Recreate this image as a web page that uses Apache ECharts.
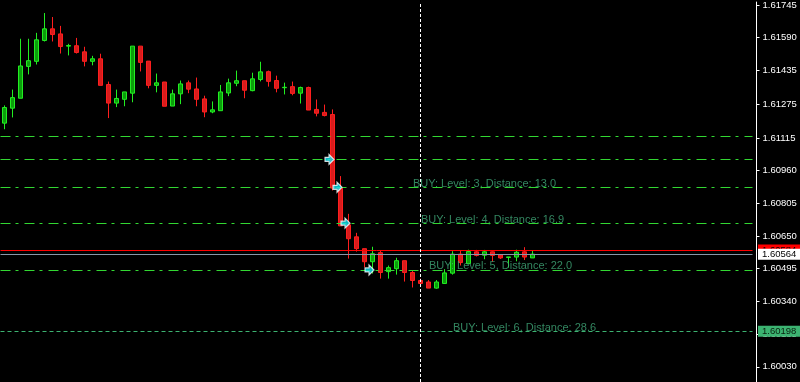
<!DOCTYPE html>
<html><head><meta charset="utf-8">
<script src="https://cdn.jsdelivr.net/npm/echarts@6/dist/echarts.min.js"></script>
<style>html,body{margin:0;padding:0;background:#000}#c{width:800px;height:382px}</style>
</head><body><div id="c"></div>
<script>
const opens = [1.61185,1.61256,1.61303,1.61454,1.61478,1.61577,1.61632,1.61608,1.61550,1.61552,
1.61523,1.61478,1.61490,1.61368,1.61280,1.61298,1.61327,1.61550,1.61479,1.61364,
1.61380,1.61266,1.61324,1.61376,1.61347,1.61300,1.61238,1.61244,1.61328,1.61374,
1.61386,1.61339,1.61392,1.61429,1.61387,1.61353,1.61358,1.61327,1.61354,1.61250,
1.61236,1.61226,1.60877,1.60703,1.60646,1.60590,1.60528,1.60571,1.60481,1.60495,
1.60533,1.60477,1.60439,1.60432,1.60403,1.60425,1.60474,1.60564,1.60519,1.60575,
1.60559,1.60575,1.60560,1.60548,1.60550,1.60575,1.60546];
const closes = [1.61259,1.61306,1.61456,1.61481,1.61580,1.61632,1.61605,1.61548,1.61553,1.61520,
1.61478,1.61490,1.61364,1.61280,1.61302,1.61333,1.61550,1.61473,1.61364,1.61376,
1.61265,1.61324,1.61371,1.61346,1.61298,1.61238,1.61248,1.61333,1.61376,1.61386,
1.61341,1.61395,1.61428,1.61383,1.61350,1.61355,1.61326,1.61354,1.61247,1.61232,
1.61221,1.60877,1.60698,1.60637,1.60590,1.60528,1.60566,1.60477,1.60500,1.60533,
1.60477,1.60439,1.60425,1.60403,1.60432,1.60475,1.60564,1.60524,1.60576,1.60558,
1.60575,1.60558,1.60546,1.60551,1.60573,1.60550,1.60564];
const lows = [1.61156,1.61212,1.61303,1.61416,1.61463,1.61572,1.61572,1.61515,1.61506,1.61515,
1.61454,1.61459,1.61364,1.61209,1.61261,1.61265,1.61284,1.61430,1.61350,1.61331,
1.61265,1.61266,1.61275,1.61327,1.61265,1.61213,1.61232,1.61244,1.61313,1.61360,
1.61303,1.61336,1.61383,1.61358,1.61331,1.61321,1.61317,1.61278,1.61247,1.61217,
1.61217,1.60866,1.60698,1.60543,1.60576,1.60502,1.60472,1.60448,1.60448,1.60467,
1.60434,1.60406,1.60415,1.60403,1.60400,1.60423,1.60467,1.60510,1.60519,1.60553,
1.60540,1.60528,1.60541,1.60500,1.60530,1.60536,1.60546];
const highs = [1.61269,1.61344,1.61585,1.61585,1.61613,1.61707,1.61688,1.61646,1.61561,1.61589,
1.61547,1.61504,1.61514,1.61382,1.61344,1.61333,1.61550,1.61550,1.61479,1.61420,
1.61380,1.61344,1.61387,1.61387,1.61401,1.61315,1.61288,1.61366,1.61396,1.61434,
1.61386,1.61424,1.61476,1.61434,1.61410,1.61377,1.61382,1.61358,1.61358,1.61297,
1.61273,1.61250,1.60934,1.60755,1.60665,1.60590,1.60599,1.60580,1.60510,1.60547,
1.60533,1.60486,1.60448,1.60441,1.60441,1.60493,1.60578,1.60583,1.60585,1.60584,
1.60584,1.60577,1.60560,1.60551,1.60585,1.60597,1.60580];

const slotCount = 94;
const categories = Array.from({length: slotCount}, (_, i) => String(i));
const yTickLabels = [1.61745,1.61590,1.61435,1.61275,1.61115,1.60960,1.60805,1.60650,1.60495,1.60340,1.60185,1.60030];
const yMin = 1.599579, yMax = 1.61759;
const levelPrices = [1.61121,1.61013,1.60881,1.60711,1.60489];
const sixthLevelPrice = 1.60198;
const askPrice = 1.60584;
const bidPrice = 1.60564;
const cursorIndex = 52;
const levelTexts = ['BUY: Level: 3, Distance: 13.0','BUY: Level: 4, Distance: 16.9','BUY: Level: 5, Distance: 22.0','BUY: Level: 6, Distance: 28.6'];
const levelTextIdx = [51,52,53,56];
const levelTextPrice = [1.60881,1.60711,1.60489,1.60198];
const arrowIdx = [41,42,43,46];
const arrowPrice = [1.61013,1.60881,1.60711,1.60489];

const candleData = opens.map((o, i) => [o, closes[i], lows[i], highs[i]]);
const FONT = 'Liberation Sans';
const priceTag = (bg, fg) => ({
  show: true, position: 'end', distance: 5.5, backgroundColor: bg, color: fg,
  padding: [1, 4, 0, 4], fontSize: 9.5, fontFamily: FONT, lineHeight: 10,
  formatter: p => Number(p.value).toFixed(5)
});
const markLines = [];
levelPrices.forEach(v => markLines.push({
  yAxis: v, label: {show: false},
  lineStyle: {color: '#32d732', width: 1, type: [10, 5, 3, 6]}
}));
markLines.push({yAxis: sixthLevelPrice, label: priceTag('#3cb371', '#0a200f'),
  lineStyle: {color: '#3cb371', width: 1, type: [4, 3]}});
markLines.push({yAxis: askPrice, label: priceTag('#ff0000', '#000'),
  lineStyle: {color: '#ff0000', width: 1, type: 'solid'}});
markLines.push({yAxis: bidPrice, label: priceTag('#ffffff', '#000'),
  lineStyle: {color: '#8896a8', width: 1, type: 'solid'}});
markLines.push({xAxis: categories[cursorIndex], label: {show: false},
  lineStyle: {color: '#ffffff', width: 1, type: [3, 2]}});

const chart = echarts.init(document.getElementById('c'), null, {renderer: 'canvas'});
chart.setOption({
  backgroundColor: '#000000',
  animation: false,
  grid: {left: 0.5, right: 47.5, top: 0, bottom: 0},
  xAxis: {type: 'category', data: categories, boundaryGap: true, show: false},
  yAxis: {
    type: 'value', position: 'right', min: yMin, max: yMax, offset: 4, scale: true,
    axisLine: {show: true, lineStyle: {color: '#ffffff', width: 1}},
    axisTick: {show: true, length: 3, customValues: yTickLabels, lineStyle: {color: '#ffffff'}},
    axisLabel: {show: true, customValues: yTickLabels, color: '#ffffff', fontSize: 9.5,
      fontFamily: FONT, margin: 6, formatter: v => v.toFixed(5)},
    splitLine: {show: false}
  },
  series: [
    {
      type: 'candlestick', data: candleData, barWidth: 5,
      itemStyle: {color: '#0b9e0b', color0: '#d81c1c', borderColor: '#22ee22', borderColor0: '#ff1e1e', borderWidth: 1},
      markLine: {silent: true, precision: 6, symbol: ['none', 'none'], animation: false, data: markLines}
    },
    {
      type: 'scatter', z: 5,
      data: arrowIdx.map((x, i) => [categories[x], arrowPrice[i]]),
      symbol: 'path://M0,3 L4,3 L4,0 L9,5 L4,10 L4,7 L0,7 Z',
      symbolSize: [9, 10], symbolOffset: [-3, 0],
      itemStyle: {color: '#10e4f2', borderColor: '#ffffff', borderWidth: 1.2}
    },
    {
      type: 'scatter', z: 4,
      data: levelTextIdx.map((x, i) => [categories[x], levelTextPrice[i]]),
      symbolSize: 1, itemStyle: {color: 'rgba(0,0,0,0)'},
      label: {show: true, position: 'right', distance: 0, offset: [0, -3.5],
        color: '#40a878', fontSize: 11, fontFamily: FONT,
        formatter: p => levelTexts[p.dataIndex]}
    }
  ]
});
</script></body></html>
